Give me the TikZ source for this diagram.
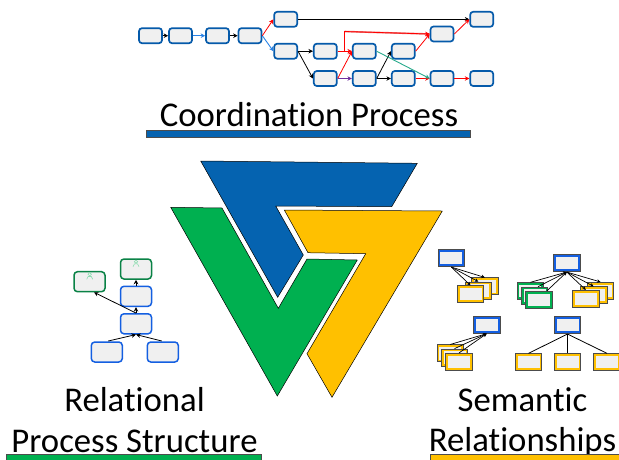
\documentclass[tikz,border=0pt]{standalone}
\usepackage{fontspec}
\setmainfont[Ligatures=NoCommon]{Carlito}
\usepackage{tikz}
\usetikzlibrary{arrows.meta}
\definecolor{procblue}{RGB}{5,90,170}
\definecolor{wedgeblue}{RGB}{5,99,176}
\definecolor{brightblue}{RGB}{20,95,225}
\definecolor{lineblue}{RGB}{40,130,230}
\definecolor{relgreen}{RGB}{0,176,80}
\definecolor{darkgreen}{RGB}{10,130,70}
\definecolor{semyellow}{RGB}{255,192,0}
\definecolor{boxgrey}{RGB}{240,240,240}
\definecolor{tealline}{RGB}{40,170,140}
\definecolor{purpleline}{RGB}{112,48,160}
\definecolor{salmonline}{RGB}{235,110,110}
\tikzset{
  tip/.style={-{Stealth[length=4.5pt,width=4.5pt]}},
  smalltip/.style={-{Stealth[length=3.5pt,width=3.5pt]}},
  procbox/.style={draw=procblue,fill=boxgrey,line width=1.7pt,rounded corners=3pt,minimum width=23pt,minimum height=15pt,inner sep=0pt},
  relbox/.style={draw=brightblue,fill=boxgrey,line width=1.5pt,rounded corners=3.5pt,minimum width=31pt,minimum height=20pt,inner sep=0pt},
  rolebox/.style={relbox,draw=darkgreen},
  blueterm/.style={draw=black!70,fill=boxgrey,line width=.7pt,minimum width=26.5pt,minimum height=17pt,inner sep=0pt,path picture={\draw[brightblue,line width=4.5pt] (path picture bounding box.south west) rectangle (path picture bounding box.north east);}},
  yellowterm/.style={blueterm,path picture={\draw[semyellow,line width=4.5pt] (path picture bounding box.south west) rectangle (path picture bounding box.north east);}},
  greenterm/.style={blueterm,path picture={\draw[relgreen,line width=4.5pt] (path picture bounding box.south west) rectangle (path picture bounding box.north east);}},
  caption/.style={font=\fontsize{34.7}{35}\selectfont,inner sep=0pt,anchor=base},
  wedge/.style={draw=black,line width=.5pt},
}
\begin{document}
\begin{tikzpicture}[x=1pt,y=-1pt]
\useasboundingbox (0,0) rectangle (619,459);
% the three wedges
\draw[wedge,fill=wedgeblue] (200.7,161) -- (417.3,163.3) -- (391.7,206.7) -- (275.7,206) -- (303.3,255) -- (277.7,297.3) -- cycle;
\draw[wedge,fill=relgreen] (170.7,207.3) -- (222,208) -- (278.3,308.3) -- (307,259) -- (357.3,260) -- (277.3,396) -- cycle;
\draw[wedge,fill=semyellow] (284.3,210) -- (442.3,211) -- (332,397.3) -- (307,353.7) -- (365.7,253.7) -- (308,252.7) -- cycle;
% coordination process
\node[procbox] (p1) at (150.5,35.7) {};
\node[procbox] (p2) at (180.5,35.7) {};
\node[procbox] (p3) at (217.5,35.7) {};
\node[procbox] (p4) at (250,35.7) {};
\node[procbox] (p5) at (285.7,19.3) {};
\node[procbox] (p6) at (285.7,51.2) {};
\node[procbox] (p7) at (325.3,51.2) {};
\node[procbox] (p8) at (325.3,78.5) {};
\node[procbox] (p9) at (364.3,51.2) {};
\node[procbox] (p10) at (364.3,78.5) {};
\node[procbox] (p11) at (403.3,51.2) {};
\node[procbox] (p12) at (403.3,78.5) {};
\node[procbox] (p13) at (442,34) {};
\node[procbox] (p14) at (442,78.5) {};
\node[procbox] (p15) at (481.7,19.3) {};
\node[procbox] (p16) at (481.7,78.5) {};
\coordinate (bend) at (344.5,31.5);
\foreach \a/\b in {p1/p2,p3/p4,p5/p15,p6/p7,p6/p8,p10/p11,p10/p12}
  \draw[tip,black,line width=.8pt] (\a.east) -- (\b.west);
\draw[tip,lineblue,line width=.9pt] (p2) -- (p3);
\draw[tip,lineblue,line width=.9pt] (p4.east) -- (p6.west);
\draw[tip,red,line width=.8pt] (p4.east) -- (p5.west);
\foreach \a/\b in {p7/p9,p12/p14,p14/p16}
  \draw[tip,red,line width=.9pt] (\a) -- (\b);
\draw[tip,red,line width=.8pt] (p8.east) -- (p9.west);
\draw[tip,red,line width=.8pt] (p11.east) -- (p13.west);
\draw[tip,red,line width=.8pt] (p13.east) -- (p15.west);
\draw[salmonline,line width=1.6pt] (bend) -- (p13.west);
\draw[tip,red,line width=.8pt] (p7.east -| bend) -- (bend) -- (p13.west);
\draw[tip,purpleline,line width=.9pt] (p8) -- (p10);
\draw[tip,tealline,line width=.9pt] (p9.east) -- (p14.west);
\node[caption] (coordlabel) at (309,126.5) {Coordination Process};
\draw[fill=wedgeblue,draw=black!70,line width=.5pt] (146.7,130.3) rectangle (470,137.7);
% relational process structure
\node[rolebox] (r1) at (89.5,281.7) {};
\node[rolebox] (r2) at (136,269) {};
\node[relbox] (r3) at (136,296.3) {};
\node[relbox] (r4) at (136,323.8) {};
\node[relbox] (r5) at (106.8,352) {};
\node[relbox] (r6) at (162.8,352) {};
\foreach \px/\py in {89.7/274.3,136/261.7} {
  \draw[relgreen!45,line width=.6pt] (\px,\py) circle (1.7pt);
  \draw[relgreen!45,line width=.6pt] (\px-3,\py+5) -- (\px-1.6,\py+2.2) -- (\px+1.6,\py+2.2) -- (\px+3,\py+5);
}
\foreach \a/\b in {r3/r2,r4/r3}
  \draw[tip,black,line width=.8pt] (\a) -- (\b);
\draw[tip,black,line width=.8pt] (r4.north) -- (94,292.3);
\draw[tip,black,line width=.8pt] (108.3,341) -- (r4.south);
\draw[tip,black,line width=.8pt] (161.7,341) -- (r4.south);
\node[caption] (rellabel) at (134.5,411) {Relational};
\node[caption] (structlabel) at (134.5,452) {Process Structure};
\draw[fill=relgreen,draw=black!70,line width=.5pt] (6.7,454) rectangle (261.7,464);
% semantic relationships
\foreach \nm/\px/\py in {y1/484.8/286.3,y2/478.3/290.5,y3/470.5/294.2,
                         y4/600.5/290.8,y5/593.6/295.2,y6/585.8/298.8,
                         y7/450.3/353.3,y8/454.5/357.5,y9/459/361.8,
                         y10/528.5/362.2,y11/567.5/362.2,y12/607/362.2}
  \node[yellowterm] (\nm) at (\px,\py) {};
\foreach \nm/\px/\py in {g1/530.3/291.2,g2/534.5/295.5,g3/538.8/299.8}
  \node[greenterm] (\nm) at (\px,\py) {};
\node[blueterm] (s1) at (451.3,258.2) {};
\node[blueterm] (s2) at (566.8,263.2) {};
\node[blueterm] (s3) at (486.7,324.8) {};
\node[blueterm] (s4) at (567.5,325.2) {};
\foreach \b in {y1,y2,y3}
  \draw[smalltip,black,line width=.7pt] (s1.south) -- (\b.north);
\foreach \b in {y4,y5,y6}
  \draw[smalltip,black,line width=.7pt] (s2.south) -- (\b.north);
\foreach \b/\off in {g1/0,g2/3.5,g3/8}
  \draw[smalltip,black,line width=.7pt] ([xshift=\off pt]\b.north) -- (s2.south);
\foreach \b in {y7,y8,y9}
  \draw[smalltip,black,line width=.7pt] (\b.north) -- (s3.south);
\foreach \b in {y10,y11,y12}
  \draw[black,line width=.8pt] (s4.south) -- (\b.north);
\node[caption] (semlabel) at (522.5,411) {Semantic};
\node[caption] (rellabeltwo) at (522.5,451) {Relationships};
\draw[fill=semyellow,draw=black!70,line width=.5pt] (430.7,454.7) rectangle (625,464);
\end{tikzpicture}
\end{document}
